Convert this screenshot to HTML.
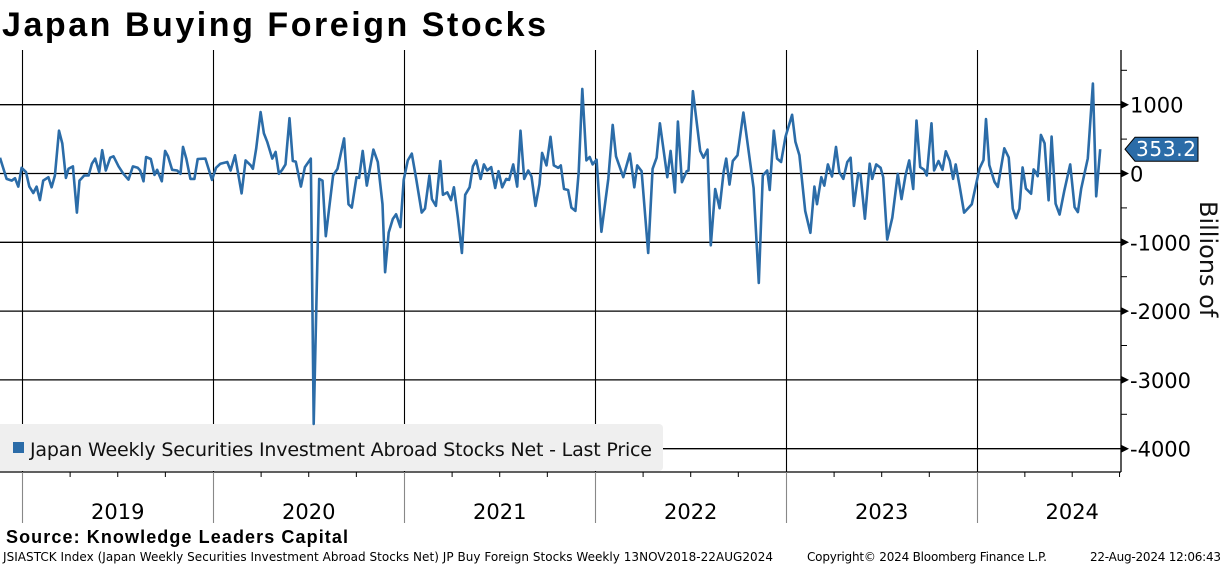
<!DOCTYPE html>
<html><head><meta charset="utf-8"><style>
body{margin:0;background:#fff;}
svg{display:block;font-family:"DejaVu Sans","Liberation Sans",sans-serif;}
</style></head><body>
<svg id="chart" width="1224" height="566" viewBox="0 0 1224 566">
<text x="2" y="36" font-family="Liberation Sans, sans-serif" font-weight="bold" font-size="34" textLength="544">Japan Buying Foreign Stocks</text>
<g id="grid"></g>
<g id="axes"></g>
<g id="legend">
<rect x="-4" y="424" width="667" height="47" rx="4" fill="#efefef"/>
<rect x="13" y="442" width="11" height="11" fill="#2b6ca8"/>
<text x="30" y="456" font-size="19" textLength="622" fill="#111">Japan Weekly Securities Investment Abroad Stocks Net - Last Price</text>
</g>
<g id="series"></g>
<text transform="translate(1200,201) rotate(90)" font-size="24" fill="#111">Billions of</text>
<text x="6" y="543" font-family="Liberation Sans, sans-serif" font-weight="bold" font-size="18" textLength="342">Source: Knowledge Leaders Capital</text>
<text x="3" y="561" font-size="12" textLength="770">JSIASTCK Index (Japan Weekly Securities Investment Abroad Stocks Net) JP Buy Foreign Stocks  Weekly 13NOV2018-22AUG2024</text>
<text x="807" y="561" font-size="12" textLength="240">Copyright© 2024 Bloomberg Finance L.P.</text>
<text x="1090" y="561" font-size="12" textLength="131">22-Aug-2024 12:06:43</text>
</svg>
<script>
const years = ["2019","2020","2021","2022","2023","2024"];
const yTicks = [1000,0,-1000,-2000,-3000,-4000];
const weeks = [1.0,2.8,4.2,5.1,6.0,6.9,8.1,9.0,10.1,11.0,11.9,12.8,14.2,15.1,16.0,17.1,18.0,19.0,19.7,20.9,22.0,22.7,24.0,25.2,26.1,27.0,28.1,28.9,29.9,31.1,32.0,33.4,34.7,36.1,37.3,38.6,39.3,40.2,40.9,42.2,43.2,43.9,45.2,46.1,46.9,48.0,49.4,50.3,51.0,51.9,53.0,54.1,55.0,
57.1,58.9,60.0,61.2,63.1,64.0,65.2,67.0,68.1,69.5,70.1,71.0,72.2,73.1,74.0,75.4,76.3,77.2,78.1,79.0,80.1,81.0,81.8,83.2,84.3,85.9,86.7,88.2,89.1,90.0,92.0,93.2,95.0,96.2,97.1,98.4,99.1,100.1,101.2,103.0,104.2,105.5,106.2,107.2,108.3,109.2,
110.4,111.3,112.4,113.5,114.7,116.2,117.1,118.3,119.0,120.1,121.3,122.0,123.2,124.2,125.0,126.1,127.2,128.1,129.3,130.2,131.1,132.3,133.2,134.1,135.2,136.3,137.2,138.2,139.3,140.1,141.2,142.3,143.2,144.2,145.3,146.2,147.3,148.4,149.1,150.3,151.4,152.3,153.5,154.2,155.1,156.2,157.1,158.2,159.1,160.1,161.2,162.1,
162.9,164.0,165.3,167.2,168.4,169.3,171.3,173.1,174.3,175.1,176.3,178.1,179.3,180.4,181.3,183.3,184.2,185.4,186.2,187.3,188.6,189.1,190.3,192.3,193.2,194.3,195.2,196.4,197.6,198.7,199.4,200.3,201.2,202.5,204.1,206.9,208.3,209.4,210.6,211.3,212.4,213.3,214.4,
215.6,217.4,218.3,219.4,221.0,222.4,223.5,224.2,225.4,226.2,227.2,228.3,229.4,230.3,231.4,232.5,233.4,234.3,235.5,236.1,237.3,238.6,239.3,240.4,241.6,242.3,243.4,244.8,246.3,247.3,248.4,249.4,250.5,251.4,252.4,253.5,254.2,255.5,256.2,257.4,258.5,259.4,260.5,261.4,262.1,263.2,264.4,266.5,
268.6,269.7,270.4,271.3,272.7,273.6,275.4,276.6,277.7,278.6,279.5,280.4,281.3,282.7,283.4,283.9,284.5,285.4,286.4,287.5,288.3,289.4,290.5,291.8,293.4,294.6,295.5,296.4,298.2,299.6,300.5,301.6];
const values = [230,-78,-103,-69,-191,83,20,-191,-284,-191,-387,-103,-54,-201,-29,622,436,-64,69,103,-568,-103,-29,-29,142,216,20,338,44,230,250,103,-5,-88,103,83,44,-113,240,211,-20,54,-113,328,250,54,44,-5,387,216,-78,-78,211,
216,-93,83,142,167,44,265,-289,191,118,69,363,892,583,461,216,314,-5,54,132,804,181,172,-191,93,216,-3640,-78,-103,-912,-29,69,510,-446,-495,-54,-64,328,-176,348,167,-446,-1435,-858,-662,-593,
-779,-93,191,289,-78,-568,-510,-29,-372,-471,181,-309,-274,-387,-201,-642,-1156,-309,-201,103,191,-78,132,44,93,-211,34,-201,-78,-93,132,-191,622,-78,44,-44,-471,-152,299,118,534,118,83,118,-225,-240,-495,-544,20,1230,191,240,
132,201,-848,-78,706,250,-54,289,-201,118,34,-1156,69,230,730,-54,328,-275,755,-127,34,44,1196,328,230,348,-1044,-225,-505,20,216,-162,181,265,887,-211,-1592,-29,44,-240,622,216,167,
534,853,461,265,-544,-862,-191,-446,-54,-176,132,-44,387,20,-78,167,230,-471,5,-15,-657,142,-78,132,83,-54,-961,-642,-5,-372,-29,191,-225,770,93,54,-29,730,44,181,54,323,181,-78,132,-191,-568,-446,
73,195,791,122,-122,-195,366,234,-512,-649,-512,88,-220,-293,59,24,-39,561,439,-390,537,-439,-596,-244,132,-488,-561,-220,220,1308,-332,353.2];
const lastValue = "353.2";

const NS="http://www.w3.org/2000/svg";
const PL=0, PR=1121, PT=50, PB=472;
function yS(v){return 173.5 - v*0.0688;}
function xS(w){return 22 + (w-7)*3.66;}
function yearX(i){return xS(7.0 + i*52.18);}
function mk(tag,attrs,parent){const e=document.createElementNS(NS,tag);for(const k in attrs)e.setAttribute(k,attrs[k]);parent.appendChild(e);return e;}
const grid=document.getElementById('grid'), axes=document.getElementById('axes'), series=document.getElementById('series');

yTicks.forEach(v=>{
  const y=yS(v);
  const l=mk('line',{x1:PL,x2:PR,y1:y,y2:y,stroke:'#000','stroke-width':1.3},grid);
  
  
  const a=mk('path',{d:`M${PR} ${y-4} L${PR+8} ${y} L${PR} ${y+4}Z`,fill:'#000'},axes);
  
  
  const t=mk('text',{x:PR+9,y:y+8,'font-size':21,fill:'#000'},axes);
  t.textContent=(v<0?'-':'')+Math.abs(v);
  
  
});
for(let v=1500;v>=-4500;v-=500){ if(v%1000===0)continue; const y=yS(v); if(y<PT||y>PB)continue;
  const m=mk('line',{x1:PR,x2:PR+6,y1:y,y2:y,stroke:'#000','stroke-width':1},axes);
  
  
}
const ra=mk('line',{x1:PR,x2:PR,y1:PT,y2:PB,stroke:'#000','stroke-width':1.3},axes);


const ba=mk('line',{x1:0,x2:PR,y1:PB,y2:PB,stroke:'#000','stroke-width':1.3},axes);


years.forEach((yr,i)=>{
  const x=Math.round(yearX(i))+0.5;
  const g=mk('line',{x1:x,x2:x,y1:PT,y2:PB,stroke:'#000','stroke-width':1.1},grid);
  
  
  const s=mk('line',{x1:x,x2:x,y1:PB,y2:523,stroke:'#888','stroke-width':1.1},axes);
  
  
  const xn=i<years.length-1?yearX(i+1):yearX(i)+190;
  const t=mk('text',{x:(x+xn)/2,y:519,'font-size':21,'text-anchor':'middle',fill:'#000'},axes);
  t.textContent=yr;
  
  
  for(let q=1;q<4;q++){const qx=x+(xn-x)*q/4; if(qx>PR)continue;
    const qt=mk('line',{x1:qx,x2:qx,y1:PB,y2:PB+5,stroke:'#000','stroke-width':1},axes);
    
    }
});
let d='';
weeks.forEach((w,i)=>{d+=(i?'L':'M')+xS(w).toFixed(1)+' '+yS(values[i]).toFixed(1);});
const p=mk('path',{d:d,fill:'none',stroke:'#2b6ca8','stroke-width':2.6,'stroke-linejoin':'round'},series);


const ly=yS(values[values.length-1]);
const tag=mk('path',{d:`M${PR+4} ${ly} L${PR+14} ${ly-12} L1198 ${ly-12} L1198 ${ly+12} L${PR+14} ${ly+12}Z`,fill:'#2b6ca8',stroke:'#000','stroke-width':1},axes);


const tt=mk('text',{x:PR+15,y:ly+7,'font-size':20,fill:'#fff',textLength:60},axes);
tt.textContent=lastValue;


</script>
</body></html>
